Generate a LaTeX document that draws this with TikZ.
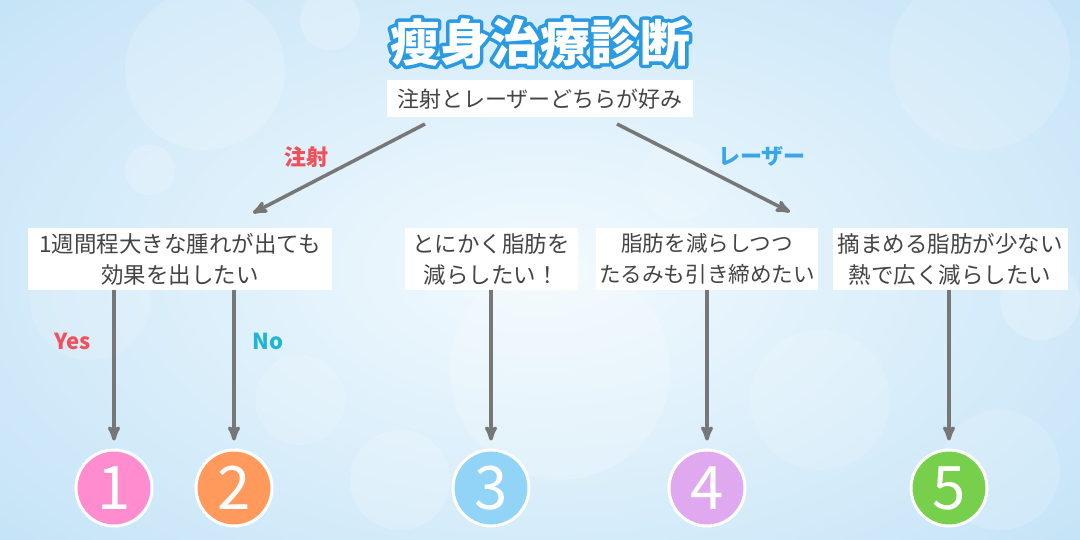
\documentclass[tikz,border=0pt]{standalone}
\usepackage{fontspec}
\setmainfont{Noto Sans CJK JP}
\usetikzlibrary{arrows,positioning}
\definecolor{bgout}{HTML}{C4E3F7}
\definecolor{bgin}{HTML}{F2FAFE}
\definecolor{titleblue}{HTML}{2A9AE2}
\definecolor{txtgray}{HTML}{444444}
\definecolor{arrgray}{HTML}{777777}
\definecolor{redlab}{HTML}{F0505A}
\definecolor{bluelab}{HTML}{3AA6E8}
\definecolor{nolab}{HTML}{22B4D6}
\definecolor{cpink}{HTML}{FF8CCF}
\definecolor{corange}{HTML}{FF9A5C}
\definecolor{cblue}{HTML}{92D3F8}
\definecolor{cviolet}{HTML}{E0A8EE}
\definecolor{cgreen}{HTML}{77CF4C}

\begin{document}
\begin{tikzpicture}[x=1pt, y=-1pt, >=stealth']
        \tikzset{qbox/.style={fill=white, text=txtgray, inner sep=0pt, align=center,
            minimum height=62pt, font=\fontsize{22.5}{31}\selectfont}}
        \tikzset{numcirc/.style={circle, draw=white, line width=3pt, minimum size=76pt,
            inner sep=0pt, text=white, font=\fontsize{60}{60}\selectfont}}
        \tikzset{arr/.style={->, draw=arrgray, line width=3.5pt}}
        \tikzset{lab/.style={font=\bfseries\fontsize{22}{22}\selectfont}}
        % background
        \useasboundingbox (0,0) rectangle (1080,540);
        \shade[inner color=bgin, outer color=bgout] (-200,-150) rectangle (1280,690);
        \foreach \px/\py/\r/\o in {205/70/80/0.18, 330/20/30/0.2, 980/60/90/0.15, 90/300/60/0.15,
            560/370/110/0.2, 820/400/70/0.15, 400/480/50/0.18, 1040/300/40/0.2,
            680/180/40/0.15, 150/170/25/0.2, 1000/470/60/0.15, 300/400/45/0.15}
          \fill[white, opacity=\o] (\px,\py) circle (\r pt);
        % title
        \node[text=titleblue, font=\bfseries\fontsize{50}{50}\selectfont] (titleline) at (540,42)
          {\special{pdf:code 2 Tr 7 w 1 j 0.165 0.604 0.886 RG}瘦身治療診断\special{pdf:code 0 Tr}};
        \node[text=white, font=\bfseries\fontsize{50}{50}\selectfont] (title) at (540,42) {瘦身治療診断};
        % question
        \node[fill=white, text=txtgray, inner sep=0pt, minimum width=306pt, minimum height=37pt,
            font=\fontsize{22}{22}\selectfont] (q) at (540,99) {注射とレーザーどちらが好み};
        \coordinate (qL) at (425,124);
        \coordinate (qR) at (617,124);
        \coordinate (tL) at (253,213);
        \coordinate (tR) at (790,212);
        % answers
        \node[qbox, minimum width=304pt] (b1) at (180,259) {1週間程大きな腫れが出ても\\効果を出したい};
        \node[qbox, minimum width=173pt] (b2) at (491,259) {とにかく脂肪を\\減らしたい！};
        \node[qbox, minimum width=222pt, font=\fontsize{21.6}{31}\selectfont] (b3) at (707,259)
          {脂肪を減らしつつ\\たるみも引き締めたい};
        \node[qbox, minimum width=235pt] (b4) at (950,259) {摘まめる脂肪が少ない\\熱で広く減らしたい};
        % results
        \node[numcirc, fill=cpink] (c1) at (114,488) {1};
        \node[numcirc, fill=corange] (c2) at (234,488) {2};
        \node[numcirc, fill=cblue] (c3) at (491,488) {3};
        \node[numcirc, fill=cviolet] (c4) at (707,488) {4};
        \node[numcirc, fill=cgreen] (c5) at (949,488) {5};
        % labels
        \node[lab, text=redlab] (lInj) at (306,157) {注射};
        \node[lab, text=bluelab] (lLas) at (762,156) {レーザー};
        \node[lab, text=redlab] (lYes) at (73,341) {Yes};
        \node[lab, text=nolab] (lNo) at (268,341) {No};
        % connectors
        \path (qL) edge[arr] (tL);
        \path (qR) edge[arr] (tR);
        \path (b1.south -| c1) edge[arr, shorten >=8pt] (c1.north);
        \path (b1.south -| c2) edge[arr, shorten >=8pt] (c2.north);
        \path (b2.south -| c3) edge[arr, shorten >=8pt] (c3.north);
        \path (b3.south -| c4) edge[arr, shorten >=8pt] (c4.north);
        \path (b4.south -| c5) edge[arr, shorten >=8pt] (c5.north);
      \end{tikzpicture}
\end{document}
